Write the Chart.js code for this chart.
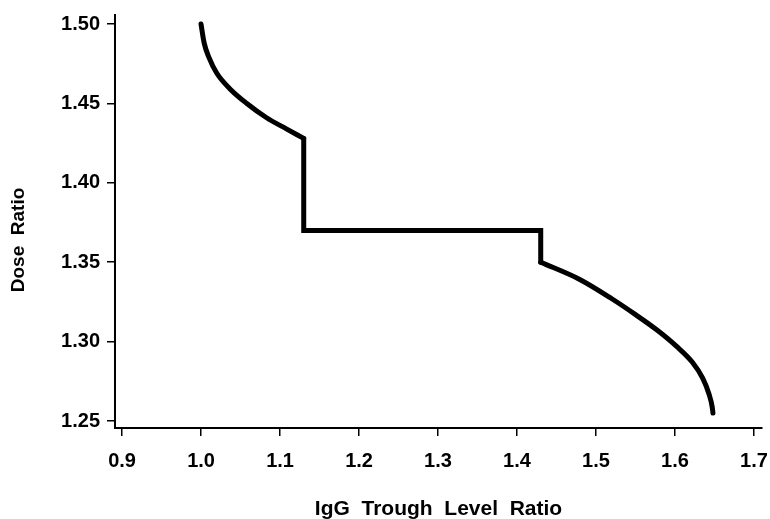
<!DOCTYPE html>
<html>
<head>
<meta charset="utf-8">
<script src="https://cdn.jsdelivr.net/npm/chart.js@4"></script>
<style>
  body { margin: 0; background: #fff; }
</style>
</head>
<body>
<canvas id="myChart" width="770" height="519"></canvas>
<script>
// upper curve (before the first step)
const courbeHautX = [1.000, 1.004, 1.010, 1.020, 1.037, 1.058, 1.083, 1.108, 1.130]
const courbeHautY = [1.500, 1.488, 1.479, 1.469, 1.459, 1.450, 1.441, 1.434, 1.428]
// the step part
const marcheX = [1.130, 1.130, 1.430, 1.430]
const marcheY = [1.428, 1.370, 1.370, 1.350]
// lower curve
const courbeBasX = [1.430, 1.480, 1.520, 1.550, 1.578, 1.602, 1.622, 1.635, 1.643, 1.647, 1.648]
const courbeBasY = [1.350, 1.339, 1.327, 1.317, 1.307, 1.297, 1.287, 1.277, 1.267, 1.259, 1.255]

const xTicks = [0.9, 1.0, 1.1, 1.2, 1.3, 1.4, 1.5, 1.6, 1.7]
const yTicks = [1.25, 1.30, 1.35, 1.40, 1.45, 1.50]

const toPoints = (xs, ys) => xs.map((x, i) => ({ x: x, y: ys[i] }))

const ligne = {
    borderColor: '#000',
    borderWidth: 5,
    borderCapStyle: 'round',
    borderJoinStyle: 'miter',
    pointRadius: 0,
    showLine: true,
    fill: false
}

const data = {
    datasets: [
        { ...ligne, data: toPoints(courbeHautX, courbeHautY), cubicInterpolationMode: 'monotone' },
        { ...ligne, data: toPoints(marcheX, marcheY), tension: 0 },
        { ...ligne, data: toPoints(courbeBasX, courbeBasY), cubicInterpolationMode: 'monotone' }
    ]
};

const fontTicks = { family: '"Liberation Sans", Arial, sans-serif', size: 20, weight: 'bold' }
const fontTitre = { family: '"Liberation Sans", Arial, sans-serif', size: 21, weight: 'bold' }

const config = {
    type: 'scatter',
    data: data,
    options: {
        responsive: false,
        animation: false,
        devicePixelRatio: 1,
        layout: { padding: { top: 15, right: 8, left: 0, bottom: 0 } },
        plugins: { legend: { display: false }, tooltip: { enabled: false } },
        scales: {
            x: {
                type: 'linear',
                min: 0.8911,
                max: 1.7101,
                afterBuildTicks: (axis) => { axis.ticks = xTicks.map((v) => ({ value: v })) },
                afterFit: (axis) => { axis.height = 91; axis.paddingLeft = 0; axis.paddingRight = 0 },
                grid: { drawOnChartArea: false, drawTicks: true, tickLength: 8, color: '#000', lineWidth: 1.5 },
                border: { display: true, color: '#000', width: 2 },
                ticks: { color: '#000', font: fontTicks, padding: 13, maxRotation: 0,
                         callback: (v) => Number(v).toFixed(1) },
                title: { display: true, text: 'IgG  Trough  Level  Ratio', color: '#000', font: fontTitre,
                         padding: { top: 0, bottom: -3 } }
            },
            y: {
                type: 'linear',
                min: 1.2456,
                max: 1.5057,
                afterBuildTicks: (axis) => { axis.ticks = yTicks.map((v) => ({ value: v })) },
                afterFit: (axis) => { axis.width = 115; axis.paddingTop = 0; axis.paddingBottom = 0 },
                grid: { drawOnChartArea: false, drawTicks: true, tickLength: 8, color: '#000', lineWidth: 1.5 },
                border: { display: true, color: '#000', width: 2 },
                ticks: { color: '#000', font: fontTicks, padding: 7,
                         callback: (v) => Number(v).toFixed(2) },
                title: { display: true, text: 'Dose  Ratio       ', color: '#000',
                         font: { family: '"Liberation Sans", Arial, sans-serif', size: 19, weight: 'bold' },
                         padding: { top: 7, bottom: 0 } }
            }
        }
    }
};

const ctx = document.getElementById('myChart');

new Chart(ctx, config);
</script>
</body>
</html>
